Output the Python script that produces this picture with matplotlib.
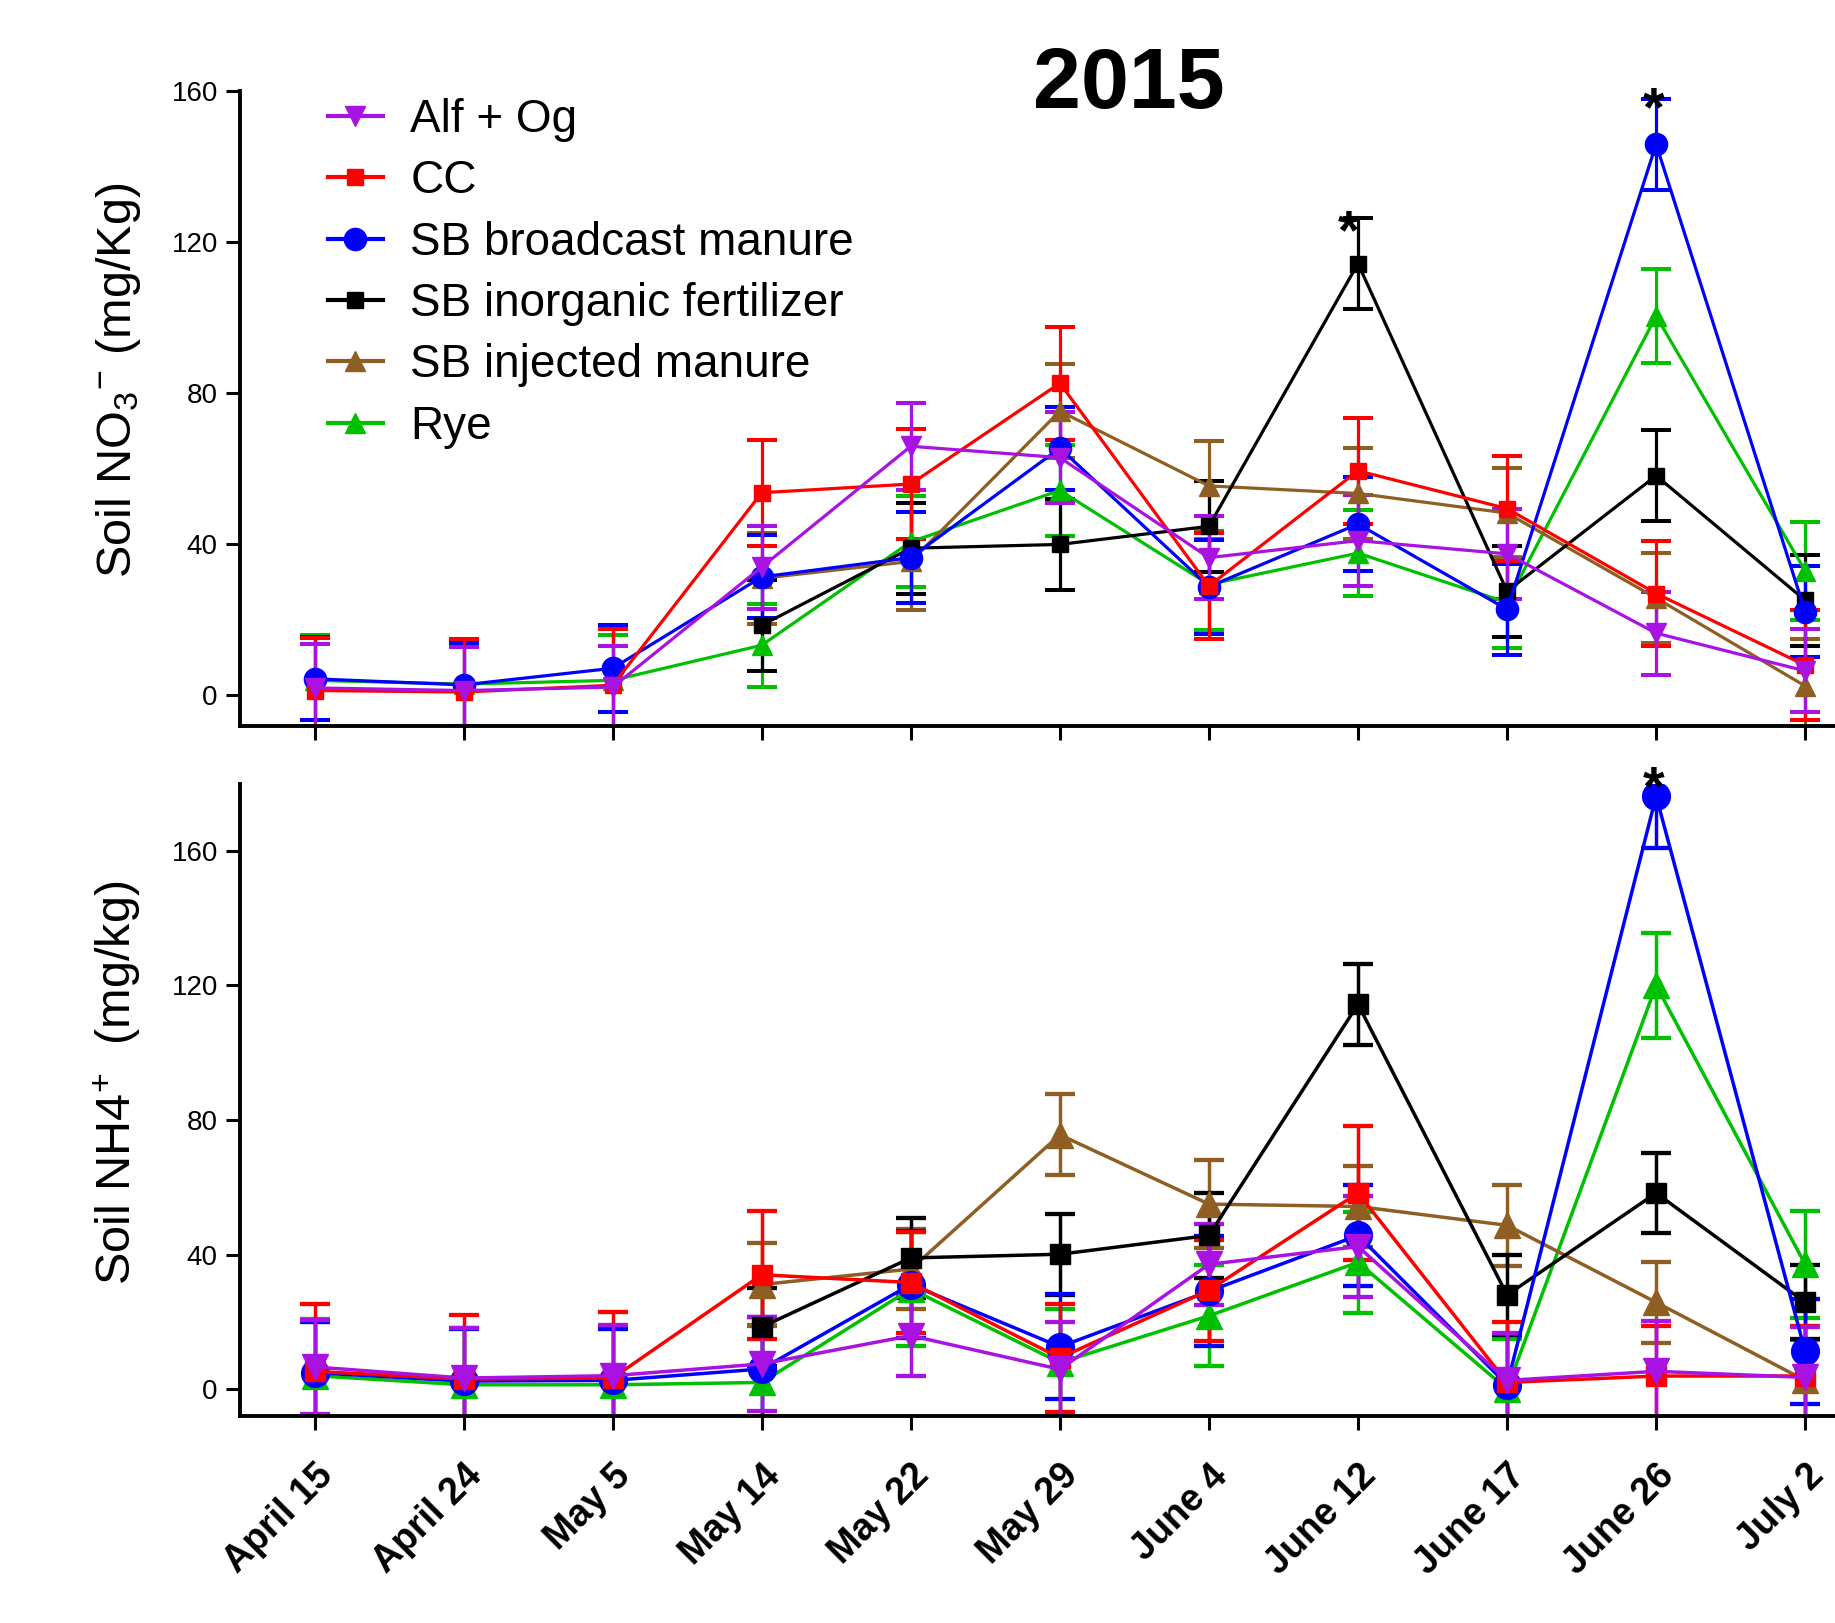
import numpy as np
import matplotlib
matplotlib.use("Agg")
import matplotlib.pyplot as plt
from matplotlib.lines import Line2D

plt.rcParams['font.family'] = ['Liberation Sans', 'DejaVu Sans']
plt.rcParams['mathtext.default'] = 'regular'

dates = ["April 15", "April 24", "May 5", "May 14", "May 22", "May 29",
         "June 4", "June 12", "June 17", "June 26", "July 2"]
series_names = ["Alf + Og", "CC", "SB broadcast manure", "SB inorganic fertilizer",
                "SB injected manure", "Rye"]
nan = np.nan

# Soil NO3- (mg/Kg)
no3_alf = [2, 1.3, 2.2, 34, 66, 63, 36.5, 41, 37.5, 16.5, 6.5]
no3_alf_err = [11.5, 11.5, 11, 11, 11.5, 12, 11, 12, 12, 11, 11]
no3_cc = [1.3, 0.9, 2.7, 53.7, 56, 82.7, 29, 59.5, 49.5, 27, 8]
no3_cc_err = [14, 14, 15, 14, 14.5, 15, 14, 14, 14, 14, 14.5]
no3_bc = [4.4, 2.8, 7.2, 31.4, 36.5, 65.5, 28.8, 45.4, 22.8, 146, 22.2]
no3_bc_err = [11, 11, 11.5, 11, 12, 11, 12.5, 12.5, 12, 12, 12]
no3_inorg = [nan, nan, nan, 18.6, 39, 40, 44.8, 114.4, 27.6, 58.2, 25.2]
no3_inorg_err = [nan, nan, nan, 12, 12, 12, 12, 12, 12, 12, 12]
no3_inj = [nan, nan, nan, 31, 35.5, 75.3, 55.5, 53.5, 48.3, 25.8, 2.5]
no3_inj_err = [nan, nan, nan, 12, 13, 12.5, 12, 12, 12, 12, 12.5]
no3_rye = [4, 3, 4, 13.3, 40.7, 54.3, 29.4, 37.7, 24.6, 100.5, 33]
no3_rye_err = [12, 11, 12, 11, 12, 12, 12, 11.3, 12, 12.5, 13]

# Soil NH4+ (mg/kg)
nh4_alf = [6.6, 3.3, 4, 7.5, 15.9, 5.9, 37.1, 42.4, 2.6, 5.3, 3.5]
nh4_alf_err = [14, 15, 15, 14, 12, 14, 12, 15, 14, 15, 15]
nh4_cc = [5.3, 3, 3.3, 34, 31.7, 9.3, 29.4, 58.3, 2, 3.9, 3.9]
nh4_cc_err = [20, 19, 19.5, 19, 15, 16, 15, 20, 18, 15, 15]
nh4_bc = [4.9, 2.4, 2.6, 6, 31.1, 12.6, 29.1, 45.7, 1.3, 176.3, 11.2]
nh4_bc_err = [15, 15.5, 15.3, 15.5, 16, 15.6, 16.3, 15, 15, 15.5, 15.5]
nh4_inorg = [nan, nan, nan, 18.5, 39, 40.1, 45.7, 114.4, 28, 58.3, 25.8]
nh4_inorg_err = [nan, nan, nan, 11.6, 12, 12, 12.6, 12, 12, 12, 11]
nh4_inj = [nan, nan, nan, 31.1, 35.7, 75.6, 55, 54.3, 48.7, 25.8, 2.6]
nh4_inj_err = [nan, nan, nan, 12.3, 12, 12, 13, 12, 12, 12, 12]
nh4_rye = [4, 1.3, 1.3, 2, 29.8, 7.9, 21.8, 37.7, 0, 120, 37.1]
nh4_rye_err = [17, 17, 17, 17, 17, 16, 15, 15, 15, 15.5, 16]

colors = ["#A812E2", "#FF0000", "#0000FF", "#000000", "#8E5E22", "#00C000"]
markers = ["v", "s", "o", "s", "^", "^"]

no3 = [(no3_alf, no3_alf_err), (no3_cc, no3_cc_err), (no3_bc, no3_bc_err),
       (no3_inorg, no3_inorg_err), (no3_inj, no3_inj_err), (no3_rye, no3_rye_err)]
nh4 = [(nh4_alf, nh4_alf_err), (nh4_cc, nh4_cc_err), (nh4_bc, nh4_bc_err),
       (nh4_inorg, nh4_inorg_err), (nh4_inj, nh4_inj_err), (nh4_rye, nh4_rye_err)]

ms_top = [14, 11, 16, 11, 14, 14]
ms_bot = [19, 15, 20, 15, 19, 19]

fig = plt.figure(figsize=(18.35, 16.23), dpi=100)
ax1 = fig.add_axes([0.1308, 0.5529, 0.8692, 0.3908])
ax2 = fig.add_axes([0.1308, 0.1275, 0.8692, 0.3897])

x = np.arange(len(dates))

def draw(ax, data, ms_list, lw):
    for i in reversed(range(len(data))):
        y, e = data[i]
        ax.errorbar(x, y, yerr=e, color=colors[i], marker=markers[i],
                    ms=ms_list[i], lw=lw, elinewidth=lw, capsize=11,
                    capthick=lw + 0.6)

draw(ax1, no3, ms_top, 2.3)
draw(ax2, nh4, ms_bot, 2.5)

for ax, top in ((ax1, 160), (ax2, 180)):
    ax.set_xlim(-0.5, 10.2)
    ax.set_ylim(-8, top)
    ax.set_yticks([0, 40, 80, 120, 160])
    ax.set_xticks(x)
    ax.spines['top'].set_visible(False)
    ax.spines['right'].set_visible(False)
    ax.spines['left'].set_linewidth(2.8)
    ax.spines['bottom'].set_linewidth(2.8)
    ax.tick_params(axis='both', width=2.2, length=10, labelsize=20, pad=6)

ax1.set_xticklabels([])
ax2.set_xticklabels(dates, rotation=45, ha='right', va='top',
                    rotation_mode='anchor', fontsize=27, fontweight='bold')
ax2.tick_params(axis='x', pad=20)

ax1.set_ylabel(r"Soil NO$_{3}$$^{-}$ (mg/Kg)", fontsize=35)
ax2.set_ylabel(r"Soil NH4$^{+}$  (mg/kg)", fontsize=35)
ax1.yaxis.set_label_coords(-0.061, 0.545)
ax2.yaxis.set_label_coords(-0.061, 0.527)

# significance stars
star_kw = dict(fontsize=40, fontweight='bold', ha='center', va='baseline', clip_on=False)
ax1.text(7 - 0.06, 118.5, "*", **star_kw)
ax1.text(9 - 0.02, 151, "*", **star_kw)
ax2.text(9 - 0.02, 174, "*", **star_kw)

fig.text(0.615, 0.947, "2015", fontsize=62, fontweight='bold', ha='center', va='center')

handles = [Line2D([], [], color=colors[i], marker=markers[i], ms=ms_top[i], lw=3)
           for i in range(len(series_names))]
ax1.legend(handles, series_names, loc='upper left', bbox_to_anchor=(0.055, 0.99),
           frameon=False, fontsize=33, handlelength=1.2, handletextpad=0.6,
           labelspacing=0.38, borderaxespad=0, borderpad=0)

fig.savefig("out.png", dpi=100)
